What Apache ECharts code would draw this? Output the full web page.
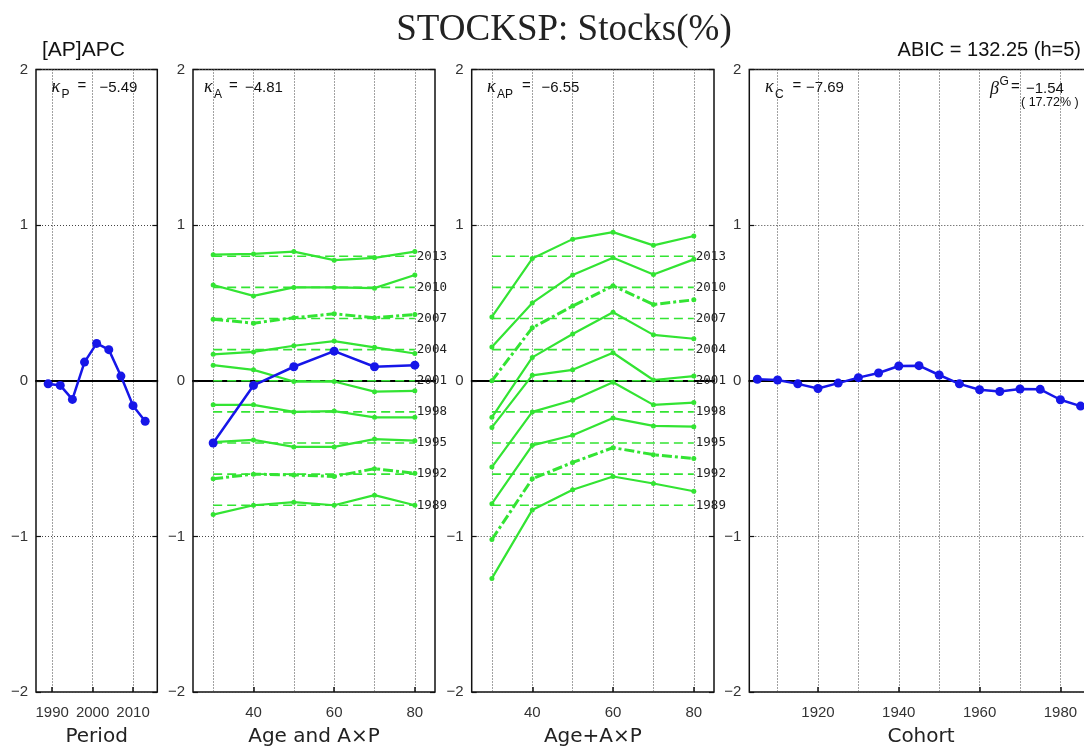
<!DOCTYPE html>
<html>
<head>
<meta charset="utf-8">
<script src="https://cdn.jsdelivr.net/npm/echarts@6/dist/echarts.min.js"></script>
<style>
  html, body { margin: 0; padding: 0; background: #fff; }
  #chart { width: 1084px; height: 747px; }
</style>
</head>
<body>
<div id="chart"></div>
<script>
// ---- data ---------------------------------------------------------------
const periods = [1989, 1992, 1995, 1998, 2001, 2004, 2007, 2010, 2013];
const periodEffect = [-0.02, -0.03, -0.12, 0.12, 0.24, 0.20, 0.03, -0.16, -0.26];

const ages = [30, 40, 50, 60, 70, 80];
const ageEffect = [-0.40, -0.03, 0.09, 0.19, 0.09, 0.10];

// vertical offset used to stack each survey period's profile
const periodBaselines = [-0.8, -0.6, -0.4, -0.2, 0, 0.2, 0.4, 0.6, 0.8];

// A×P interaction, one row per period (stacked on its baseline)
const apLevels = [
  [-0.86, -0.80, -0.78, -0.80, -0.735, -0.80],
  [-0.63, -0.60, -0.605, -0.615, -0.565, -0.595],
  [-0.395, -0.38, -0.425, -0.425, -0.375, -0.385],
  [-0.155, -0.155, -0.20, -0.195, -0.235, -0.235],
  [0.10, 0.07, -0.005, -0.005, -0.07, -0.065],
  [0.17, 0.185, 0.225, 0.255, 0.215, 0.175],
  [0.395, 0.37, 0.405, 0.43, 0.405, 0.425],
  [0.615, 0.545, 0.60, 0.60, 0.595, 0.68],
  [0.81, 0.815, 0.83, 0.775, 0.79, 0.83]
];

// Age + A×P, one row per period (stacked on its baseline)
const ageApLevels = [
  [-1.27, -0.83, -0.70, -0.615, -0.66, -0.71],
  [-1.02, -0.63, -0.525, -0.43, -0.475, -0.50],
  [-0.79, -0.415, -0.35, -0.24, -0.29, -0.295],
  [-0.555, -0.20, -0.125, -0.01, -0.155, -0.14],
  [-0.30, 0.035, 0.07, 0.18, 0.005, 0.03],
  [-0.235, 0.15, 0.30, 0.44, 0.295, 0.27],
  [0.0, 0.34, 0.48, 0.61, 0.49, 0.52],
  [0.217, 0.50, 0.68, 0.79, 0.683, 0.78],
  [0.41, 0.785, 0.91, 0.955, 0.87, 0.93]
];

const cohorts = [1905, 1910, 1915, 1920, 1925, 1930, 1935, 1940, 1945,
                 1950, 1955, 1960, 1965, 1970, 1975, 1980, 1985];
const cohortEffect = [0.01, 0.005, -0.02, -0.05, -0.015, 0.02, 0.05, 0.095, 0.097,
                      0.037, -0.02, -0.058, -0.069, -0.053, -0.055, -0.122, -0.163];

const yTicks = [-2, -1, 0, 1, 2];
const periodTicks = [1990, 2000, 2010];
const periodGrid = [1990, 2000, 2010];
const ageTicks = [40, 60, 80];
const ageGrid = [30, 40, 50, 60, 70, 80];
const cohortTicks = [1920, 1940, 1960, 1980];
const cohortGrid = [1910, 1920, 1930, 1940, 1950, 1960, 1970, 1980];

// ---- layout & style -----------------------------------------------------
const TOP = 69.5, HEIGHT = 622.5;
const GREEN = '#33e433', BLUE = '#1616e8', INK = '#111';
const SANS = '"Liberation Sans", Arial, sans-serif';
const dotted = { color: '#444', width: 1, type: [1, 2] };
const thickDashedPeriods = [1992, 2007];

const panels = [
  { left: 36,    width: 121.3, min: 1986, max: 2016, ticks: periodTicks, grid: periodGrid, name: 'Period' },
  { left: 193,   width: 242,   min: 25,   max: 85,   ticks: ageTicks,    grid: ageGrid,    name: 'Age and A×P' },
  { left: 471.7, width: 242.3, min: 25,   max: 85,   ticks: ageTicks,    grid: ageGrid,    name: 'Age+A×P' },
  { left: 749.3, width: 343.4, min: 1903, max: 1988, ticks: cohortTicks, grid: cohortGrid, name: 'Cohort' }
];

const grids = [], xAxes = [], yAxes = [], series = [];
const yMin = yTicks[0], yMax = yTicks[yTicks.length - 1];

panels.forEach((p, i) => {
  grids.push({
    left: p.left, top: TOP, width: p.width, height: HEIGHT,
    outerBoundsMode: 'none', containLabel: false,
    show: true, borderColor: INK, borderWidth: 1.5, backgroundColor: 'rgba(0,0,0,0)'
  });
  // bottom axis: labelled ticks and axis title
  xAxes.push({
    type: 'value', gridIndex: i, position: 'bottom', min: p.min, max: p.max,
    name: p.name, nameLocation: 'middle', nameGap: 35,
    nameTextStyle: { fontSize: 20, fontFamily: '"DejaVu Sans", sans-serif', color: '#222' },
    axisLine: { show: false, onZero: false },
    axisTick: { show: true, inside: true, length: 5, customValues: p.ticks, lineStyle: { color: INK, width: 1.5 } },
    axisLabel: {
      customValues: p.ticks, fontSize: 15, fontFamily: SANS, color: '#333', margin: 13,
      formatter: v => String(v)
    },
    splitLine: { show: false }
  });
  // second axis: sits on y = 0 as the reference line and carries the dotted verticals
  xAxes.push({
    type: 'value', gridIndex: i, position: 'top', min: p.min, max: p.max,
    axisLine: { show: true, onZero: true, lineStyle: { color: '#000', width: 2 } },
    axisTick: { show: false, customValues: p.grid },
    axisLabel: { show: false },
    splitLine: { show: true, lineStyle: dotted }
  });
  yAxes.push({
    type: 'value', gridIndex: i, position: 'left', min: yMin, max: yMax, interval: 1,
    axisLine: { show: false, onZero: false },
    axisTick: { show: true, inside: true, length: 5, lineStyle: { color: INK, width: 1.2 } },
    axisLabel: {
      fontSize: 15, fontFamily: SANS, color: '#333', margin: 8,
      formatter: v => (v < 0 ? '\u2212' + (-v) : String(v))
    },
    splitLine: { show: true, lineStyle: dotted }
  });
  yAxes.push({
    type: 'value', gridIndex: i, position: 'right', min: yMin, max: yMax, interval: 1,
    axisLine: { show: false, onZero: false },
    axisTick: { show: true, inside: true, length: 5, lineStyle: { color: INK, width: 1.2 } },
    axisLabel: { show: false },
    splitLine: { show: false }
  });
});

function blueLine(gridIdx, xs, ys) {
  return {
    type: 'line', xAxisIndex: 2 * gridIdx, yAxisIndex: 2 * gridIdx,
    data: xs.map((x, j) => [x, ys[j]]),
    symbol: 'circle', symbolSize: 9, showAllSymbol: true,
    itemStyle: { color: BLUE }, lineStyle: { color: BLUE, width: 2.5 }, z: 6
  };
}

// Period effect
series.push(blueLine(0, periods, periodEffect));

// Stacked period profiles: A×P (panel 2) and Age + A×P (panel 3)
[[1, apLevels], [2, ageApLevels]].forEach(([g, levels]) => {
  periods.forEach((per, k) => {
    series.push({
      type: 'line', xAxisIndex: 2 * g, yAxisIndex: 2 * g,
      data: [[ages[0], periodBaselines[k]], [ages[ages.length - 1], periodBaselines[k]]],
      symbol: 'none',
      lineStyle: { color: GREEN, width: 1.6, type: [9, 5] },
      endLabel: {
        show: true, formatter: String(per), distance: 2,
        fontSize: 12.5, fontFamily: '"DejaVu Sans Mono", monospace', color: '#222'
      },
      z: 3
    });
    const thick = thickDashedPeriods.includes(per);
    series.push({
      type: 'line', xAxisIndex: 2 * g, yAxisIndex: 2 * g,
      data: ages.map((a, j) => [a, levels[k][j]]),
      symbol: 'circle', symbolSize: 5, showAllSymbol: true,
      itemStyle: { color: GREEN },
      lineStyle: { color: GREEN, width: thick ? 3 : 2.2, type: thick ? [10, 3, 3, 3] : 'solid' },
      z: 4
    });
  });
});

// Age effect
series.push(blueLine(1, ages, ageEffect));
// Cohort effect
series.push(blueLine(3, cohorts, cohortEffect));

// ---- text ---------------------------------------------------------------
function txt(x, y, text, font, extra) {
  return {
    type: 'text', x: x, y: y, silent: true,
    style: Object.assign({ text: text, font: font, fill: '#111', align: 'left', verticalAlign: 'middle' }, extra || {})
  };
}
const kFont = 'italic 18px "Liberation Serif", serif';
const subFont = '12px ' + SANS;
const valFont = '15px ' + SANS;

function kappa(x, sub, eqX, valX, val) {
  return [
    txt(x, 87, '\u03BA', kFont),
    txt(x + 10, 95, sub, subFont),
    txt(eqX, 86, '=', valFont),
    txt(valX, 88, val, valFont)
  ];
}

const texts = [].concat(
  [txt(564, 30, 'STOCKSP: Stocks(%)', '37px "Liberation Serif", serif', { align: 'center', fill: '#222' })],
  [txt(42, 50, '[AP]APC', '21px ' + SANS)],
  [txt(1081, 50, 'ABIC = 132.25 (h=5)', '20px ' + SANS, { align: 'right' })],
  kappa(51.5, 'P', 77.5, 99.5, '\u22125.49'),
  kappa(204, 'A', 229, 245, '\u22124.81'),
  kappa(487, 'AP', 522, 541.5, '\u22126.55'),
  kappa(765, 'C', 792.5, 806, '\u22127.69'),
  [
    txt(990, 89, '\u03B2', kFont),
    txt(999.5, 82, 'G', subFont),
    txt(1011, 87, '=', valFont),
    txt(1026, 89, '\u22121.54', valFont),
    txt(1021, 103, '( 17.72% )', '12.5px ' + SANS)
  ]
);

const chart = echarts.init(document.getElementById('chart'), null, { renderer: 'canvas', width: 1084, height: 747 });
chart.setOption({
  animation: false,
  backgroundColor: '#fff',
  grid: grids,
  xAxis: xAxes,
  yAxis: yAxes,
  series: series,
  graphic: texts
});
</script>
</body>
</html>
